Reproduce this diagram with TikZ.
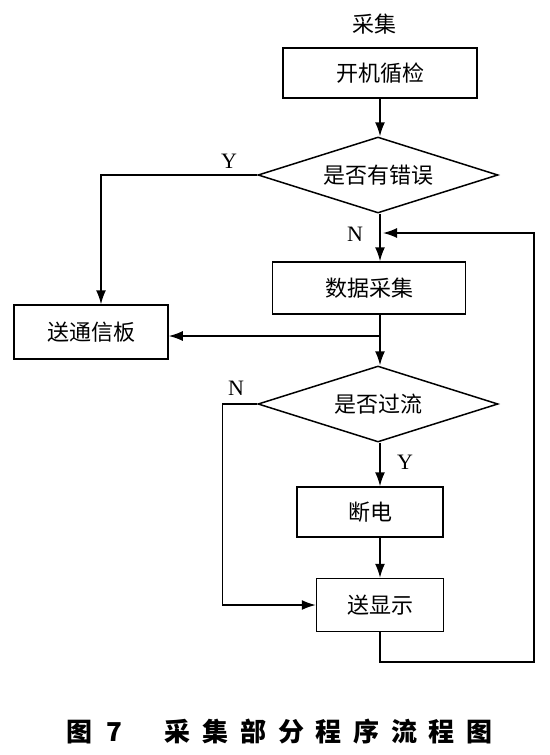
\documentclass[tikz,border=0pt]{standalone}
\usepackage{fontspec}
\setmainfont{Liberation Serif}
\newfontfamily\cjk{Noto Sans CJK SC}
\newfontfamily\cjkcap[LetterSpace=45]{Noto Sans CJK SC}
\usetikzlibrary{shapes.geometric,arrows.meta}
\begin{document}
\begin{tikzpicture}[x=1pt, y=-1pt, >={Latex[length=14pt,width=10pt]}, line width=1.5pt,
  box/.style={draw, rectangle, inner sep=0pt, font=\cjk\fontsize{22}{22}\selectfont},
  dec/.style={draw, diamond, aspect=3.15, inner sep=0pt, font=\cjk\fontsize{22}{22}\selectfont},
  lbl/.style={font=\fontsize{22}{22}\selectfont}]
\useasboundingbox (0,0) rectangle (549,755);
\node[font=\cjk\fontsize{22}{22}\selectfont] (title) at (374,24) {采集};
\node[box, minimum width=194pt, minimum height=50pt] (kj) at (380,73) {开机循检};
\node[dec, minimum width=240pt, minimum height=76pt] (cw) at (378,175) {是否有错误};
\node[box, minimum width=193pt, minimum height=52pt] (sj) at (369,288) {数据采集};
\node[box, minimum width=154pt, minimum height=54pt] (txb) at (91,332) {送通信板};
\node[dec, minimum width=240pt, minimum height=76pt] (gl) at (378,404) {是否过流};
\node[box, minimum width=146pt, minimum height=50pt] (dd) at (370,512) {断电};
\node[box, minimum width=127pt, minimum height=53pt] (xs) at (380,605) {送显示};
\node[lbl] (y1) at (229,161) {Y};
\node[lbl] (n1) at (355,234) {N};
\node[lbl] (n2) at (236,388) {N};
\node[lbl] (y2) at (405,462) {Y};
\coordinate (br) at (380,336);
\coordinate (jn) at (383,233);
\coordinate (rt) at (534,662);
\draw[->] (kj.south) -- (kj.south |- cw.north);
\draw[->] (cw.west) -| ([xshift=10pt]txb.north);
\draw[->] (kj.south |- cw.south) -- (kj.south |- sj.north);
\draw (br |- sj.south) -- (br);
\draw[->] (br) -- (br -| txb.east);
\draw[->] (br) -- (br |- gl.north);
\draw[->] (gl.west) -- ++(-35,0) |- (xs.west);
\draw[->] (br |- gl.south) -- (br |- dd.north);
\draw[->] (br |- dd.south) -- (xs.north);
\draw[->] (xs.south) |- (rt) |- (jn);
\node[anchor=west, font=\cjkcap\bfseries\fontsize{26}{26}\selectfont] (cap) at (62,732) {图\hspace{14pt}7\hspace{43pt}采集部分程序流程图};
\end{tikzpicture}
\end{document}
